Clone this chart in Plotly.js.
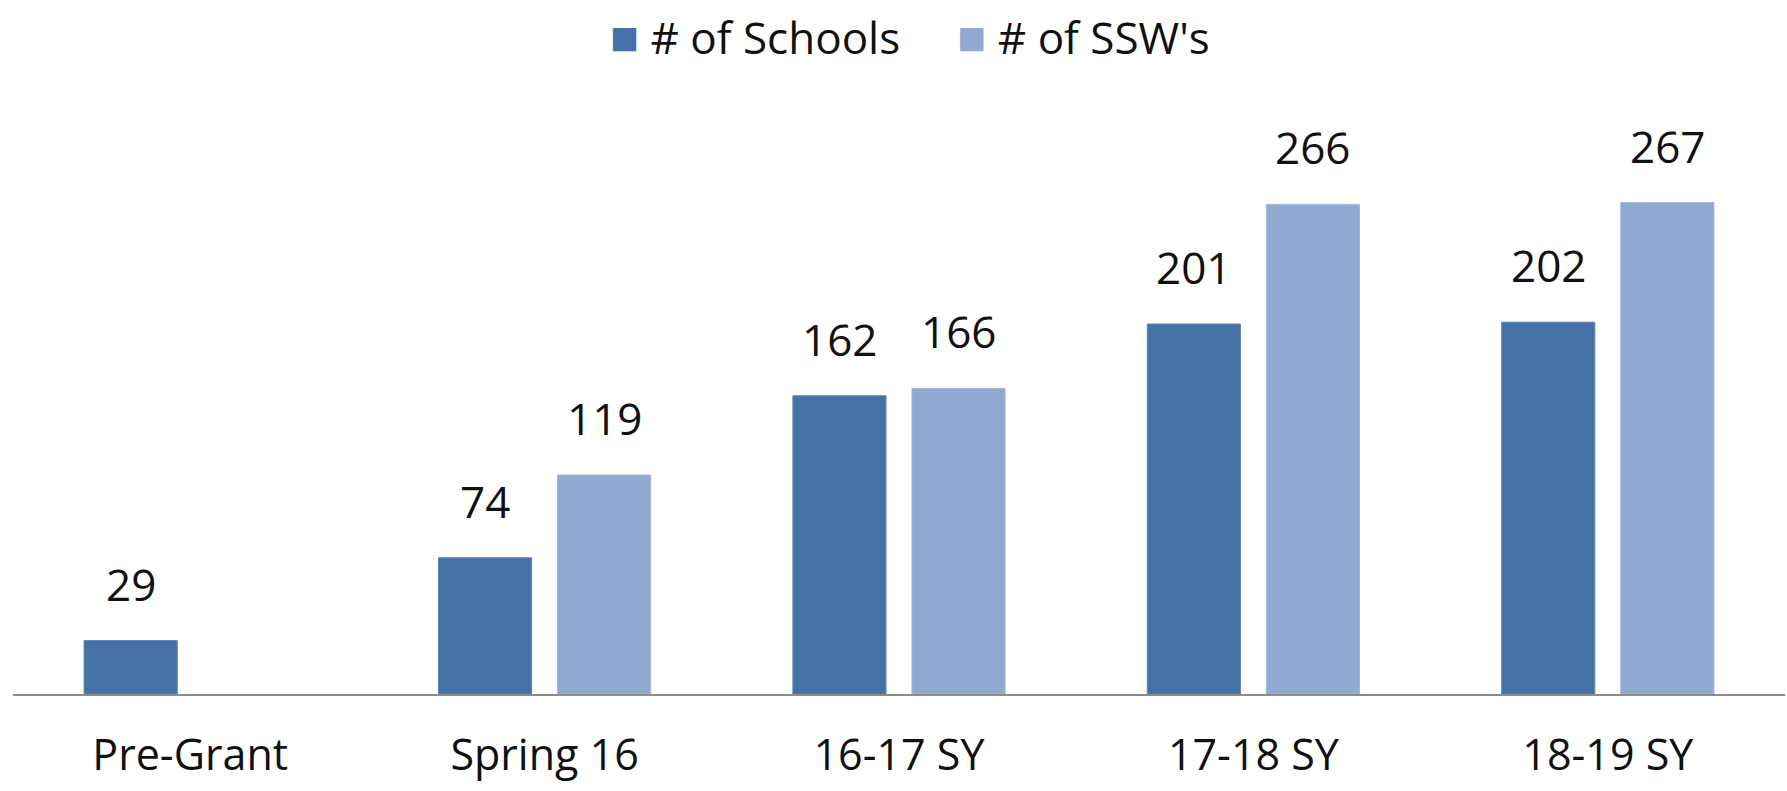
<!DOCTYPE html>
<html>
<head>
<meta charset="utf-8">
<script src="https://cdn.plot.ly/plotly-3.0.1.min.js"></script>
<style>
  html, body { margin: 0; padding: 0; background: #fff; }
  #chart { width: 1787px; height: 791px; }
</style>
</head>
<body>
<div id="chart"></div>
<script>
// === Data ===
const categories = ['Pre-Grant', 'Spring 16', '16-17 SY', '17-18 SY', '18-19 SY'];
const schools = [29, 74, 162, 201, 202];
const ssws = [null, 119, 166, 266, 267];
const seriesNames = ['# of Schools', "# of SSW's"];

const DARK = '#4571a6';
const LIGHT = '#91a8d0';
const FONT = 'Open Sans, Liberation Sans, sans-serif';

const W = 1787, H = 791;
const MARGIN = { l: 13, r: 2, t: 105, b: 97 };
const BARGAP = 0.328;
const BARGROUPGAP = 0.218;

// half a slot in pixels, used to put value labels over each bar
const catWidth = (W - MARGIN.l - MARGIN.r) / categories.length;
const slotHalf = catWidth * (1 - BARGAP) / 4;
const plotH = H - MARGIN.t - MARGIN.b;

const traces = [
  { name: seriesNames[0], type: 'bar', x: categories, y: schools,
    marker: { color: DARK, line: { color: '#5a83b5', width: 1 } }, hoverinfo: 'none' },
  { name: seriesNames[1], type: 'bar', x: categories, y: ssws,
    marker: { color: LIGHT, line: { color: '#a3b7da', width: 1 } }, hoverinfo: 'none' }
];

// value labels
const annotations = [];
[schools, ssws].forEach((vals, k) => {
  vals.forEach((v, i) => {
    if (v === null) return;
    annotations.push({
      x: categories[i], y: v, xref: 'x', yref: 'y',
      xshift: k === 0 ? -slotHalf : slotHalf, yshift: 25,
      yanchor: 'bottom', showarrow: false, text: String(v),
      font: { family: FONT, size: 44, color: '#111' }
    });
  });
});

// legend drawn as text with coloured squares (centre ~35px from the top)
const sq = c => '<span style="color:' + c + ';font-size:48px">■</span>';
annotations.push({
  xref: 'paper', yref: 'paper', x: 0.506, y: 1 + (MARGIN.t - 35) / plotH,
  xanchor: 'center', yanchor: 'middle', showarrow: false, borderpad: 0,
  text: sq(DARK) + ' ' + seriesNames[0] + '     ' + sq(LIGHT) + ' ' + seriesNames[1],
  font: { family: FONT, size: 44, color: '#111' }
});

const layout = {
  width: W, height: H,
  margin: MARGIN,
  paper_bgcolor: '#fff', plot_bgcolor: '#fff',
  barmode: 'group', bargap: BARGAP, bargroupgap: BARGROUPGAP,
  showlegend: false,
  xaxis: {
    type: 'category', showline: true, linecolor: '#8c8c8c', linewidth: 2,
    ticks: '', showgrid: false, zeroline: false,
    tickfont: { family: FONT, size: 43, color: '#111' },
    ticklabelstandoff: 22
  },
  yaxis: {
    range: [0, 320], visible: false, showgrid: false, zeroline: false
  },
  annotations: annotations
};

Plotly.newPlot('chart', traces, layout, { displayModeBar: false, staticPlot: true });
</script>
</body>
</html>
